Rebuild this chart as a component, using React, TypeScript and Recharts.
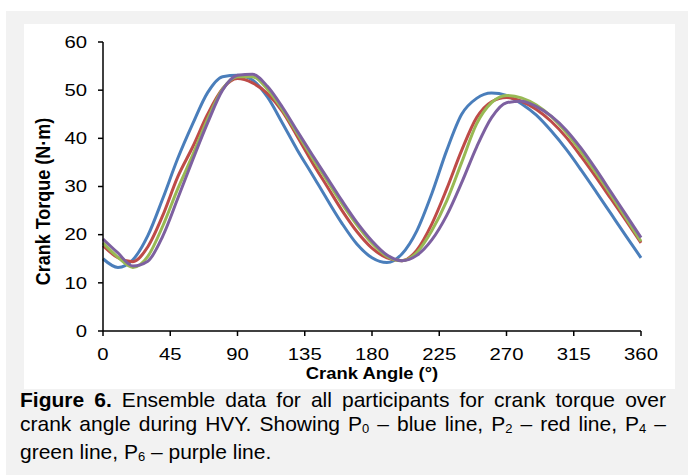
import React from "react";
import { Label, Line, LineChart, XAxis, YAxis } from "recharts";

// crank angle (deg), every 10 degrees
const angles = [
  0, 10, 20, 30, 40, 50, 60, 70, 80, 90, 100, 110, 120, 130, 140, 150, 160, 170, 180,
  190, 200, 210, 220, 230, 240, 250, 260, 270, 280, 290, 300, 310, 320, 330, 340, 350, 360,
];

// crank torque (N·m)
const p0 = [
  15.0, 13.2, 14.8, 19.8, 27.5, 35.8, 43.0, 49.5, 52.8, 53.1, 52.1, 48.6, 43.2, 37.6, 32.5, 27.3, 22.3, 18.0, 15.2,
  14.2, 16.0, 20.8, 28.5, 37.5, 45.0, 48.3, 49.4, 48.9, 47.2, 44.8, 41.5, 37.7, 33.4, 28.9, 24.3, 19.7, 15.2,
];
const p2 = [
  17.7, 15.2, 14.4, 17.5, 24.0, 32.0, 38.2, 45.0, 50.3, 52.4, 51.5, 49.3, 45.6, 40.4, 35.0, 30.0, 25.0, 20.6, 17.2,
  15.2, 14.6, 16.8, 22.2, 29.5, 37.5, 44.3, 47.6, 48.5, 47.7, 46.0, 43.5, 40.2, 36.2, 31.9, 27.4, 22.9, 18.3,
];
const p4 = [
  18.3, 15.3, 13.2, 15.5, 21.8, 29.5, 36.5, 44.0, 50.2, 52.8, 52.8, 50.2, 46.0, 41.0, 36.0, 31.2, 26.4, 22.0, 18.2,
  15.5, 14.6, 16.3, 20.8, 27.0, 35.0, 43.0, 47.4, 48.9, 48.4, 46.9, 44.5, 41.2, 37.2, 32.8, 28.2, 23.4, 18.6,
];
const p6 = [
  19.1, 16.2, 13.5, 14.5, 19.7, 27.5, 35.5, 43.2, 50.0, 53.1, 53.3, 50.8, 46.5, 41.5, 36.6, 31.8, 27.0, 22.5, 18.7,
  15.8, 14.6, 15.7, 18.9, 24.0, 30.8, 38.2, 44.3, 47.4, 47.7, 46.6, 44.6, 41.7, 37.9, 33.5, 28.8, 24.1, 19.4,
];

const xTicks = [0, 45, 90, 135, 180, 225, 270, 315, 360];
const yTicks = [0, 10, 20, 30, 40, 50, 60];

const data = angles.map((a, i) => ({ angle: a, p0: p0[i], p2: p2[i], p4: p4[i], p6: p6[i] }));

const FONT = "'Liberation Sans', Arial, sans-serif";

const XTick = (props: any) => {
  const { x, y, payload } = props;
  return (
    <text transform={`translate(${x},${y + 21.5}) scale(1.27,1)`} textAnchor="middle" fontSize={16} fontFamily={FONT} fill="#000">
      {payload.value}
    </text>
  );
};

const YTick = (props: any) => {
  const { x, y, payload } = props;
  return (
    <text transform={`translate(${x - 9},${y + 5.7}) scale(1.27,1)`} textAnchor="end" fontSize={16} fontFamily={FONT} fill="#000">
      {payload.value}
    </text>
  );
};

const YTitle = (props: any) => {
  const vb = props.viewBox || { x: 0, y: 18, width: 79, height: 289 };
  const cx = vb.x + 18.5;
  const cy = vb.y + vb.height / 2 + 15;
  return (
    <text transform={`translate(${cx},${cy}) rotate(-90) scale(1,1.15)`} textAnchor="middle" dominantBaseline="central" fontSize={18} fontWeight="bold" fontFamily={FONT} fill="#000">
      Crank Torque (N·m)
    </text>
  );
};

const XTitle = (props: any) => {
  const vb = props.viewBox || { x: 79, y: 307, width: 538, height: 58 };
  const cx = vb.x + vb.width / 2;
  const cy = vb.y + 48;
  return (
    <text transform={`translate(${cx},${cy}) scale(1.15,1)`} textAnchor="middle" fontSize={16} fontWeight="bold" fontFamily={FONT} fill="#000">
      Crank Angle (°)
    </text>
  );
};

const axisStroke = { stroke: "#000", strokeWidth: 1.5 };
const subStyle = { fontSize: 13, verticalAlign: "-2px" };

export default function App() {
  return (
    <div style={{ position: "absolute", left: 0, top: 0, width: 688, height: 475, background: "#fff", overflow: "hidden" }}>
      <div style={{ position: "absolute", left: 6, top: 11, width: 682, height: 464, background: "#f2f2f2" }} />
      <div style={{ position: "absolute", left: 24, top: 24, width: 651, height: 365, background: "#fff" }}>
        <LineChart width={651} height={365} data={data} margin={{ top: 18, right: 34, bottom: 0, left: 0 }}>
          <XAxis
            dataKey="angle"
            type="number"
            domain={[0, 360]}
            ticks={xTicks}
            height={58}
            tickSize={5}
            axisLine={axisStroke}
            tickLine={axisStroke}
            tick={XTick}
          >
            <Label content={XTitle} />
          </XAxis>
          <YAxis
            type="number"
            domain={[0, 60]}
            ticks={yTicks}
            width={79}
            tickSize={5}
            axisLine={axisStroke}
            tickLine={axisStroke}
            tick={YTick}
          >
            <Label content={YTitle} />
          </YAxis>
          <Line type="monotone" dataKey="p0" stroke="#4A7EBB" strokeWidth={3} dot={false} isAnimationActive={false} />
          <Line type="monotone" dataKey="p2" stroke="#BE4B48" strokeWidth={3} dot={false} isAnimationActive={false} />
          <Line type="monotone" dataKey="p4" stroke="#98B954" strokeWidth={3} dot={false} isAnimationActive={false} />
          <Line type="monotone" dataKey="p6" stroke="#7D60A0" strokeWidth={3} dot={false} isAnimationActive={false} />
        </LineChart>
      </div>
      <div style={{ position: "absolute", left: 20, top: 388, width: 646, fontFamily: FONT, fontSize: 21, lineHeight: "23.5px", color: "#000", textAlign: "justify" }}>
        <div style={{ textAlignLast: "justify" }}>
          <b>Figure 6.</b> Ensemble data for all participants for crank torque over
        </div>
        <div style={{ textAlignLast: "justify" }}>
          crank angle during HVY. Showing P<sub style={subStyle}>0</sub> – blue line, P<sub style={subStyle}>2</sub> – red line, P<sub style={subStyle}>4</sub> –
        </div>
        <div>
          green line, P<sub style={subStyle}>6</sub> – purple line.
        </div>
      </div>
    </div>
  );
}
